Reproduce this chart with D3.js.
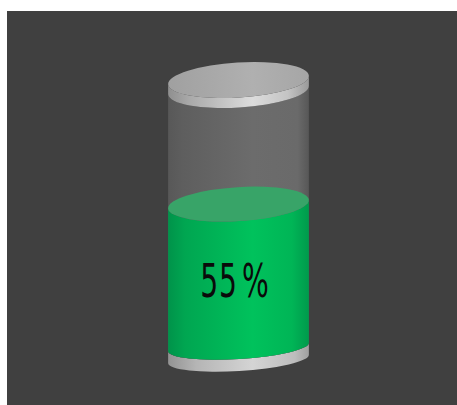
<!DOCTYPE html>
<html><head><meta charset="utf-8">
<script src="https://cdn.jsdelivr.net/npm/d3@7"></script>
<style>html,body{margin:0;padding:0;background:#fff;}svg{display:block;}</style>
</head><body>
<svg id="c" width="457" height="405"></svg>
<script>
const gaugeLabels = ["55%"];
const gaugeValues = [55];
const scaleDomain = [0, 100];

const svg = d3.select("#c");
const W = 457, H = 405;
const defs = svg.append("defs");

function hGrad(id, stops) {
  const g = defs.append("linearGradient").attr("id", id).attr("x1", "0%").attr("x2", "100%").attr("y1", "0%").attr("y2", "0%");
  stops.forEach(s => g.append("stop").attr("offset", s[0]).attr("stop-color", s[1]).attr("stop-opacity", s[2] == null ? 1 : s[2]));
}
hGrad("glass", [["0%", "#585858"], ["10%", "#5e5e5e"], ["60%", "#6c6c6c"], ["92%", "#6a6a6a"], ["100%", "#575757"]]);
hGrad("liquid", [["0%", "#00934a"], ["12%", "#00a651"], ["60%", "#00c25c"], ["88%", "#00b556"], ["100%", "#009a4c"]]);
hGrad("rim", [["0%", "#8f8f8f"], ["15%", "#a9a9a9"], ["60%", "#dcdcdc"], ["85%", "#c4c4c4"], ["100%", "#9a9a9a"]]);
hGrad("base", [["0%", "#939393"], ["20%", "#b5b5b5"], ["60%", "#d4d4d4"], ["90%", "#bdbdbd"], ["100%", "#a0a0a0"]]);
hGrad("capTop", [["0%", "#a0a0a0"], ["60%", "#b0b0b0"], ["100%", "#a6a6a6"]]);

svg.append("rect").attr("x", 7).attr("y", 11).attr("width", W - 7).attr("height", H - 11).attr("fill", "#404040");

const cx = 238.5, rx = 70.5, rot = -3.5;
const th = rot * Math.PI / 180;
const yScale = d3.scaleLinear().domain(scaleDomain).range([346, 88]);

function pt(cy, ry, t) {
  return [cx + rx * Math.cos(t) * Math.cos(th) - ry * Math.sin(t) * Math.sin(th),
          cy + rx * Math.cos(t) * Math.sin(th) + ry * Math.sin(t) * Math.cos(th)];
}
function side(cyTop, ryTop, cyBot, ryBot) {
  const lt = pt(cyTop, ryTop, Math.PI), rt = pt(cyTop, ryTop, 0);
  const lb = pt(cyBot, ryBot, Math.PI), rb = pt(cyBot, ryBot, 0);
  return `M${lt}L${lb}A${rx},${ryBot} ${rot} 0 0 ${rb}L${rt}A${rx},${ryTop} ${rot} 0 1 ${lt}Z`;
}
function ellipse(g, cy, ry, fill, op) {
  g.append("ellipse").attr("cx", 0).attr("cy", 0).attr("rx", rx).attr("ry", ry)
    .attr("transform", `translate(${cx},${cy}) rotate(${rot})`).attr("fill", fill).attr("fill-opacity", op == null ? 1 : op);
}

const g = svg.append("g");
const v = gaugeValues[0];
const yBot = yScale(0), yTop = yScale(v);
const capCy = 80, capRy = 17.5, capTh = 10;

// base ring
g.append("path").attr("d", side(yBot + 1, 12, yBot + 13, 12)).attr("fill", "url(#base)");
// glass body
g.append("path").attr("d", side(capCy + capTh, capRy, yBot + 1, 12)).attr("fill", "url(#glass)");
// liquid
g.append("path").attr("d", side(yTop, 17, yBot + 1, 12)).attr("fill", "url(#liquid)");
ellipse(g, yTop, 17, "#38a468");
// cap rim and top
g.append("path").attr("d", side(capCy, capRy, capCy + capTh, capRy)).attr("fill", "url(#rim)");
ellipse(g, capCy, capRy, "url(#capTop)");

const txt = svg.selectAll("text.val").data(gaugeLabels).enter().append("text")
  .attr("class", "val")
  .attr("text-anchor", "middle")
  .attr("transform", "translate(235,297) scale(0.6,1)")
  .attr("font-family", "'DejaVu Sans', sans-serif")
  .attr("font-size", 47)
  .attr("letter-spacing", 1.5)
  .attr("fill", "#0a0a0a");
txt.append("tspan").text(d => d.replace("%", ""));
txt.append("tspan").attr("dx", 7).text("%");
</script>
</body></html>
